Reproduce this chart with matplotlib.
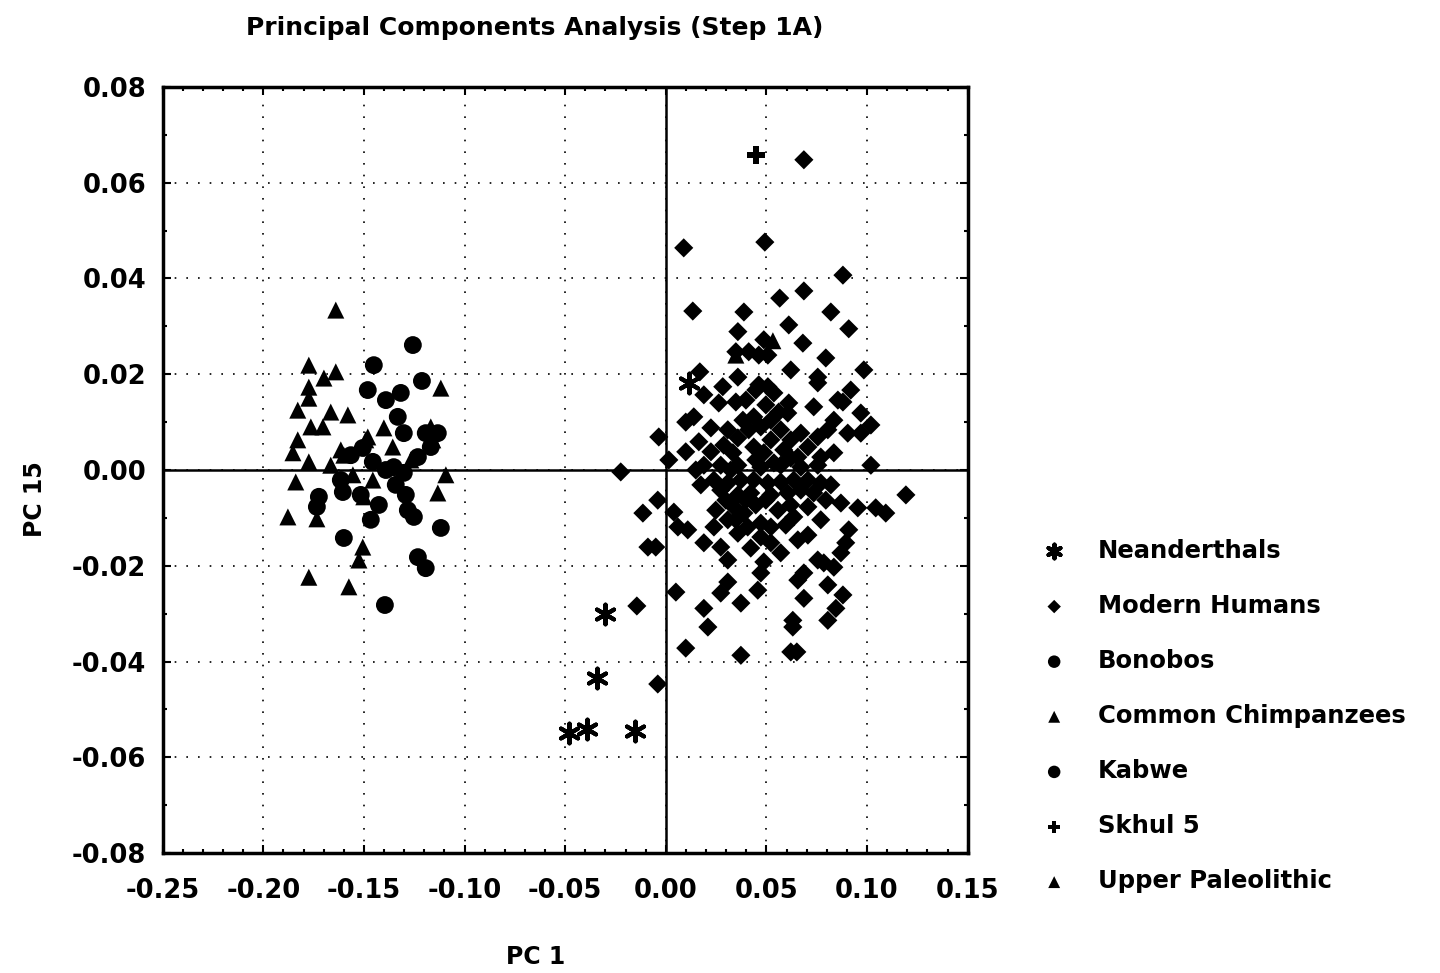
import matplotlib
matplotlib.use("Agg")
import matplotlib.pyplot as plt
from matplotlib.ticker import MultipleLocator, FormatStrFormatter

plt.rcParams['font.family'] = ['DejaVu Sans']
plt.rcParams['font.weight'] = 'bold'

""" ---------- data read off the chart (PC 1, PC 15) ---------- """

neanderthals_x = [0.0114, -0.030, -0.034, -0.048, -0.039, -0.0154]
neanderthals_y = [0.0182, -0.030, -0.0435, -0.055, -0.054, -0.0545]

modern_x = [
    0.0686, 0.0089, 0.0492, 0.0880, 0.0566, 0.0686, 0.0134, 0.0388, 0.0820, 0.0909,
    0.0611, 0.0358, 0.0487, 0.0681, 0.0348, 0.0412, 0.0462, 0.0507, 0.0795, 0.0621,
    0.0984, 0.0755, 0.0169, 0.0358, 0.0283, 0.0462, 0.0507, 0.0919, 0.0447, 0.0537,
    0.0189, 0.0855, 0.0263, 0.0348, 0.0398, 0.0611, 0.0735, 0.0969, 0.0139, 0.0099,
    0.0437, 0.0606, 0.0522, 0.1019, 0.0835, 0.0224, 0.0472, 0.0571, 0.0671, 0.0755,
    0.0805, 0.0904, 0.0969, 0.0358, 0.0164, -0.0035, 0.0099, 0.0224, 0.0288, 0.0333,
    0.0437, 0.0487, 0.0537, 0.0586, 0.0656, 0.0706, 0.0770, 0.0835, 0.0015, 0.0189,
    0.0273, 0.0358, 0.0472, 0.0571, 0.0671, 0.0755, 0.1019, 0.0497, 0.0561, 0.0412,
    0.0621, 0.0522, 0.0447, 0.0621, 0.0383, 0.0308, 0.0755, 0.0880,
    -0.0224, 0.0239, 0.0308, 0.0373, 0.0437, 0.0507, 0.0571, 0.0636, 0.0706, 0.0770,
    0.0273, 0.0358, 0.0422, 0.0522, 0.0606, 0.0671, 0.0735, 0.0870, 0.0954, 0.1043,
    0.1093, 0.1193, 0.0338, 0.0388, 0.0472, 0.0557, 0.0636, 0.0706, 0.0770, 0.0040,
    0.0060, 0.0109, 0.0239, 0.0308, 0.0358, 0.0407, 0.0472, 0.0522, 0.0571, 0.0656,
    0.0706, 0.0189, 0.0273, 0.0308, 0.0422, 0.0909, 0.0894, 0.0870, 0.0835, 0.0755,
    0.0785, 0.0686, 0.0656, 0.0487, 0.0472, 0.0308, 0.0273, 0.0457, 0.0373, 0.0189,
    0.0209, 0.0805, 0.0880, 0.0845, 0.0805, 0.0686, 0.0631, 0.0631, 0.0050, 0.0099,
    0.0373, 0.0621, 0.0651, -0.0040, -0.0114, -0.0089, -0.0050, -0.0144, -0.0040, 0.0323,
    0.0497, 0.0447, 0.0596, 0.0398, 0.0298, 0.0248, 0.0348, 0.0522, 0.0621, 0.0795,
    0.0820, 0.0149, 0.0174,
]
modern_y = [
    0.0648, 0.0464, 0.0476, 0.0407, 0.0359, 0.0374, 0.0332, 0.0330, 0.0330, 0.0295,
    0.0303, 0.0289, 0.0272, 0.0265, 0.0247, 0.0247, 0.0240, 0.0240, 0.0234, 0.0209,
    0.0209, 0.0194, 0.0205, 0.0194, 0.0174, 0.0178, 0.0174, 0.0167, 0.0167, 0.0161,
    0.0157, 0.0146, 0.0140, 0.0142, 0.0146, 0.0140, 0.0132, 0.0119, 0.0111, 0.0100,
    0.0111, 0.0119, 0.0104, 0.0094, 0.0104, 0.0088, 0.0090, 0.0084, 0.0077, 0.0069,
    0.0084, 0.0077, 0.0077, 0.0067, 0.0059, 0.0069, 0.0038, 0.0038, 0.0052, 0.0036,
    0.0048, 0.0036, 0.0015, 0.0042, 0.0027, 0.0048, 0.0027, 0.0036, 0.0021, 0.0010,
    0.0010, 0.0010, 0.0006, 0.0010, 0.0006, 0.0010, 0.0010, 0.0136, 0.0121, 0.0084,
    0.0063, 0.0063, 0.0021, 0.0025, 0.0104, 0.0084, 0.0182, 0.0142,
    -0.0004, -0.0021, -0.0027, -0.0021, -0.0021, -0.0027, -0.0025, -0.0021, -0.0021, -0.0027,
    -0.0042, -0.0052, -0.0048, -0.0052, -0.0048, -0.0042, -0.0048, -0.0069, -0.0079, -0.0079,
    -0.0090, -0.0052, -0.0077, -0.0090, -0.0111, -0.0084, -0.0098, -0.0077, -0.0104, -0.0088,
    -0.0119, -0.0125, -0.0119, -0.0104, -0.0132, -0.0119, -0.0140, -0.0152, -0.0173, -0.0146,
    -0.0136, -0.0152, -0.0161, -0.0188, -0.0163, -0.0125, -0.0152, -0.0173, -0.0203, -0.0188,
    -0.0194, -0.0215, -0.0230, -0.0192, -0.0215, -0.0234, -0.0257, -0.0251, -0.0278, -0.0289,
    -0.0328, -0.0240, -0.0261, -0.0289, -0.0314, -0.0268, -0.0314, -0.0328, -0.0255, -0.0372,
    -0.0387, -0.0380, -0.0380, -0.0063, -0.0090, -0.0161, -0.0161, -0.0284, -0.0447, 0.0000,
    -0.0063, -0.0073, -0.0115, -0.0063, -0.0063, -0.0084, -0.0104, -0.0119, -0.0073, -0.0063,
    -0.0031, 0.0000, -0.0031,
]

bonobos_x = [
    -0.1257, -0.1451, -0.1212, -0.1481, -0.1391, -0.1317, -0.1332, -0.1302, -0.1193, -0.1133,
    -0.1600, -0.1282, -0.1252, -0.1118, -0.1232, -0.1193, -0.1615, -0.1605, -0.1466, -0.1426,
    -0.1302, -0.1352, -0.1232, -0.1168, -0.1565, -0.1506, -0.1456, -0.1391, -0.1342, -0.1292,
    -0.1516, -0.1724, -0.1734,
]
bonobos_y = [
    0.0261, 0.0219, 0.0186, 0.0167, 0.0146, 0.0161, 0.0111, 0.0077, 0.0077, 0.0077,
    -0.0142, -0.0084, -0.0098, -0.0121, -0.0182, -0.0205, -0.0021, -0.0046, -0.0104, -0.0073,
    -0.0006, 0.0006, 0.0027, 0.0048, 0.0031, 0.0046, 0.0017, 0.0000, -0.0031, -0.0052,
    -0.0052, -0.0056, -0.0077,
]

chimps_x = [
    -0.1640, -0.1774, -0.1699, -0.1640, -0.1774, -0.1774, -0.1829, -0.1665, -0.1580, -0.1764,
    -0.1704, -0.1829, -0.1853, -0.1774, -0.1839, -0.1878, -0.1118, -0.1401, -0.1357, -0.1481,
    -0.1600, -0.1501, -0.1168, -0.1093, -0.1133, -0.1506, -0.1525, -0.1774, -0.1575, -0.1734,
    -0.1615, -0.1491, -0.1665, -0.1555, -0.1456, -0.1267, -0.1158,
]
chimps_y = [
    0.0334, 0.0219, 0.0192, 0.0205, 0.0173, 0.0150, 0.0125, 0.0121, 0.0115, 0.0090,
    0.0090, 0.0063, 0.0036, 0.0017, -0.0025, -0.0098, 0.0171, 0.0088, 0.0048, 0.0069,
    0.0031, -0.0056, 0.0090, -0.0010, -0.0048, -0.0161, -0.0188, -0.0224, -0.0244, -0.0102,
    0.0042, 0.0063, 0.0010, -0.0010, -0.0021, 0.0021, 0.0063,
]

kabwe_x = [-0.1396]
kabwe_y = [-0.0282]

skhul_x = [0.0447]
skhul_y = [0.0658]

upper_paleo_x = [0.0532, 0.0348]
upper_paleo_y = [0.0270, 0.0240]

x_ticks = [-0.25, -0.20, -0.15, -0.10, -0.05, 0.00, 0.05, 0.10, 0.15]
y_ticks = [-0.08, -0.06, -0.04, -0.02, 0.00, 0.02, 0.04, 0.06, 0.08]


def main() -> None:
    fig = plt.figure(figsize=(14.4, 9.73), dpi=100)
    ax = fig.add_axes([0.113, 0.1233, 0.559, 0.7873])

    ax.axhline(0, color='black', lw=1.8, zorder=1)
    ax.axvline(0, color='black', lw=1.8, zorder=1)

    ax.scatter(neanderthals_x, neanderthals_y, marker=(6, 2, 0), s=200, linewidths=3,
               color='black', label='Neanderthals', zorder=3)
    ax.scatter(modern_x, modern_y, marker='D', s=95, color='black', edgecolors='none',
               label='Modern Humans', zorder=3)
    ax.scatter(bonobos_x, bonobos_y, marker='o', s=165, color='black', edgecolors='none',
               label='Bonobos', zorder=3)
    ax.scatter(chimps_x, chimps_y, marker='^', s=150, color='black', edgecolors='none',
               label='Common Chimpanzees', zorder=3)
    ax.scatter(kabwe_x, kabwe_y, marker='o', s=165, color='black', edgecolors='none',
               label='Kabwe', zorder=3)
    ax.scatter(skhul_x, skhul_y, marker='P', s=160, color='black', edgecolors='none',
               label='Skhul 5', zorder=3)
    ax.scatter(upper_paleo_x, upper_paleo_y, marker='^', s=150, color='black',
               edgecolors='none', label='Upper Paleolithic', zorder=3)

    ax.set_xlim(-0.25, 0.15)
    ax.set_ylim(-0.08, 0.08)
    ax.set_xticks(x_ticks)
    ax.set_yticks(y_ticks)
    ax.xaxis.set_major_formatter(FormatStrFormatter('%.2f'))
    ax.yaxis.set_major_formatter(FormatStrFormatter('%.2f'))
    ax.xaxis.set_minor_locator(MultipleLocator(0.01))
    ax.yaxis.set_minor_locator(MultipleLocator(0.01))
    ax.tick_params(which='both', direction='in', top=True, right=True, width=1.5)
    ax.tick_params(which='major', length=6, labelsize=18.5)
    ax.tick_params(axis='y', which='major', pad=12)
    ax.tick_params(axis='x', which='major', pad=18)
    ax.tick_params(which='minor', length=3)
    for lbl in ax.get_xticklabels() + ax.get_yticklabels():
        lbl.set_fontweight('bold')

    ax.grid(True, which='major', linestyle=(0, (1, 6)), color='black', lw=1.2)
    ax.set_axisbelow(True)
    for sp in ax.spines.values():
        sp.set_linewidth(2.5)

    fig.text(0.371, 0.971, 'Principal Components Analysis (Step 1A)', ha='center',
             va='center', fontsize=18, fontweight='bold')
    fig.text(0.372, 0.016, 'PC 1', ha='center', va='center', fontsize=17, fontweight='bold')
    fig.text(0.024, 0.487, 'PC 15', ha='center', va='center', rotation=90,
             fontsize=17, fontweight='bold')

    handles, labels = ax.get_legend_handles_labels()
    leg = fig.legend(handles, labels, loc='upper left', bbox_to_anchor=(0.700, 0.4687),
                     frameon=False, fontsize=17.5, markerscale=0.7, labelspacing=1.28,
                     handletextpad=0.8, scatterpoints=1)
    for t in leg.get_texts():
        t.set_fontweight('bold')

    fig.savefig('out.png', dpi=100)


if __name__ == "__main__":
    main()
